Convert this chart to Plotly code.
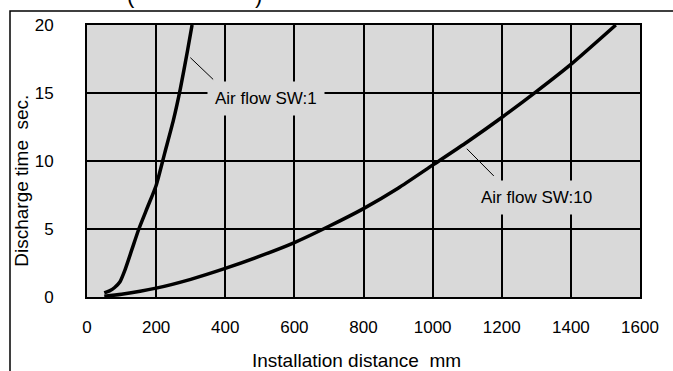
import plotly.graph_objects as go

# Discharge time vs installation distance
sw1_distance = [50, 65, 80, 95, 110, 130, 150, 175, 200, 225, 250, 270, 290, 304]
sw1_time = [0.3, 0.45, 0.7, 1.1, 2.0, 3.5, 5.0, 6.6, 8.2, 10.6, 13.0, 15.3, 18.0, 20.0]

sw10_distance = [50, 100, 200, 300, 400, 500, 600, 700, 800, 900, 1000, 1100, 1200, 1300, 1400, 1530]
sw10_time = [0.05, 0.2, 0.65, 1.3, 2.1, 3.0, 4.0, 5.2, 6.5, 8.0, 9.7, 11.4, 13.2, 15.1, 17.1, 20.0]

x_ticks = [0, 200, 400, 600, 800, 1000, 1200, 1400, 1600]
y_ticks = [0, 5, 10, 15, 20]

label_font = dict(family="Liberation Sans, Arial", size=17, color="black")
tick_font = dict(family="Liberation Sans, Arial", size=17, color="black")
title_font = dict(family="Liberation Sans, Arial", size=19, color="black")

fig = go.Figure()
for xs, ys in [(sw1_distance, sw1_time), (sw10_distance, sw10_time)]:
    fig.add_trace(go.Scatter(x=xs, y=ys, mode="lines",
                             line=dict(color="black", width=3.5, shape="spline", smoothing=0.6),
                             showlegend=False, hoverinfo="skip"))

# leader lines for the labels
fig.add_trace(go.Scatter(x=[299, 365], y=[17.6, 16.0], mode="lines", line=dict(color="black", width=1),
                         showlegend=False, hoverinfo="skip"))
fig.add_trace(go.Scatter(x=[1099, 1177], y=[10.9, 8.9], mode="lines", line=dict(color="black", width=1),
                         showlegend=False, hoverinfo="skip"))

fig.add_annotation(x=518, y=14.6, text="Air flow SW:1", showarrow=False, font=label_font,
                   bgcolor="#d9d9d9", borderpad=7)
fig.add_annotation(x=1300, y=7.35, text="Air flow SW:10", showarrow=False, font=label_font,
                   bgcolor="#d9d9d9", borderpad=7)

# axis titles placed by hand to sit where the reference has them
fig.add_annotation(xref="paper", yref="paper", x=0.487, y=-0.232, text="Installation distance  mm",
                   showarrow=False, font=title_font, xanchor="center", yanchor="middle")
fig.add_annotation(xref="paper", yref="paper", x=-0.12, y=0.426, text="Discharge time  sec.",
                   showarrow=False, textangle=-90, font=title_font, xanchor="center", yanchor="middle")

# cut-off title parentheses at the very top
for px_x, ch in [(131, "("), (258, ")")]:
    fig.add_annotation(xref="paper", yref="paper", x=(px_x - 87) / 553, y=(297 - 10) / 272, text=ch,
                       showarrow=False, xanchor="center", yanchor="bottom",
                       font=dict(family="Liberation Sans", size=22, color="black"))

# outer frame
fig.add_shape(type="rect", xref="paper", yref="paper", x0=(10 - 87) / 553, x1=1.2, y0=-0.4,
              y1=(297 - 11) / 272, line=dict(color="black", width=1.5), layer="below")

fig.update_xaxes(range=[0, 1600], tickvals=x_ticks, showgrid=True, gridcolor="black", gridwidth=1.5,
                 zeroline=False, showline=True, linecolor="black", linewidth=2, mirror=True,
                 tickfont=tick_font, ticks="", ticklabelstandoff=14, automargin=False)
fig.update_yaxes(range=[0, 20], tickvals=y_ticks, showgrid=True, gridcolor="black", gridwidth=1.5,
                 zeroline=False, showline=True, linecolor="black", linewidth=2, mirror=True,
                 tickfont=tick_font, ticks="", ticklabelstandoff=28, automargin=False)

fig.update_layout(width=673, height=371, margin=dict(l=87, r=33, t=25, b=74, autoexpand=False),
                  plot_bgcolor="#d9d9d9", paper_bgcolor="white")

fig.write_html("out.html", config={"displayModeBar": False},
               post_script="document.body.style.margin='0';document.body.style.overflow='hidden';")
